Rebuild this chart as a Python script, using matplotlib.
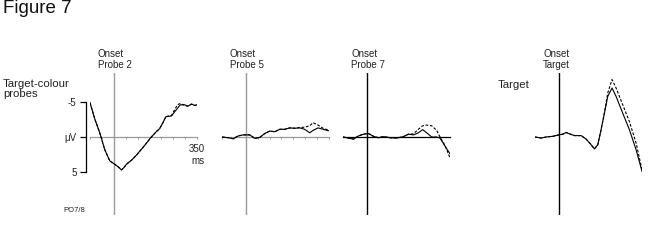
import matplotlib
matplotlib.use("Agg")
import matplotlib.pyplot as plt

plt.rcParams['font.family'] = ['Liberation Sans', 'DejaVu Sans']

# ---------------- data (time in ms, amplitude in microvolts; negative plotted up) ----------
t_p2 = [-100, -80, -59, -38, -17, 4, 20, 32, 42, 53, 75, 95, 125, 158, 180, 193, 206, 219,
        243, 256, 268, 280, 298, 311, 327, 341, 350]
solid_p2 = [-4.9, -2.6, -0.6, 1.8, 3.4, 3.9, 4.3, 4.7, 4.4, 3.9, 3.3, 2.6, 1.4, 0.0, -0.8, -1.2,
            -2.0, -2.9, -3.0, -3.6, -4.1, -4.6, -4.6, -4.4, -4.7, -4.5, -4.6]
dashed_p2 = [-4.9, -2.6, -0.6, 1.8, 3.4, 3.9, 4.3, 4.7, 4.4, 3.9, 3.3, 2.6, 1.4, 0.0, -0.8, -1.2,
             -2.0, -2.9, -3.1, -3.9, -4.6, -4.8, -4.5, -4.4, -4.7, -4.5, -4.6]

t_p5 = [-100, -74, -53, -32, -11, 17, 38, 59, 80, 101, 122, 143, 164, 185, 206, 227, 248,
        269, 283, 304, 325, 346, 350]
solid_p5 = [0.0, 0.1, 0.25, -0.15, -0.3, -0.3, 0.2, 0.05, -0.5, -0.85, -0.75, -1.1, -1.1,
            -1.3, -1.25, -1.3, -1.1, -0.6, -0.95, -1.3, -1.1, -0.9, -0.9]
dashed_p5 = [0.0, 0.1, 0.25, -0.15, -0.3, -0.3, 0.2, 0.05, -0.5, -0.85, -0.75, -1.1, -1.1,
             -1.3, -1.25, -1.35, -1.4, -1.6, -2.05, -1.7, -1.25, -1.0, -1.0]

t_p7 = [-100, -77, -56, -35, -14, 7, 28, 49, 70, 98, 126, 154, 175, 196, 217, 235, 252,
        273, 294, 308, 329, 350]
solid_p7 = [0.0, 0.15, 0.3, -0.15, -0.4, -0.5, -0.1, 0.1, -0.05, 0.1, 0.15, -0.05, -0.4,
            -0.3, -0.6, -1.05, -0.6, 0.0, 0.0, 0.15, 1.3, 2.4]
dashed_p7 = [0.0, 0.15, 0.3, -0.15, -0.4, -0.5, -0.1, 0.1, -0.05, 0.1, 0.15, -0.05, -0.4,
             -0.45, -1.1, -1.6, -1.7, -1.6, -0.95, 0.0, 1.2, 3.0]

t_tg = [-100, -74, -53, -25, 0, 17, 31, 45, 66, 94, 115, 136, 150, 164, 178, 192, 206,
        224, 241, 269, 297, 325, 350]
solid_tg = [0.0, 0.15, 0.0, -0.1, -0.3, -0.4, -0.65, -0.45, -0.2, -0.2, 0.3, 1.1, 1.7,
            1.1, -1.05, -3.4, -5.8, -7.0, -5.8, -3.4, -1.05, 1.8, 4.9]
dashed_tg = [0.0, 0.15, 0.0, -0.1, -0.3, -0.4, -0.65, -0.45, -0.2, -0.2, 0.3, 1.1, 1.7,
             1.1, -1.05, -3.5, -6.3, -8.2, -7.0, -4.6, -2.2, 0.85, 4.7]

panel_titles = ["Onset\nProbe 2", "Onset\nProbe 5", "Onset\nProbe 7", "Onset\nTarget"]
y_ticks = [-5, 0, 5]
y_ticklabels = ["-5", "\u03bcV", "5"]
x_ticks = [-100, -50, 0, 50, 100, 150, 200, 250, 300, 350]

# ---------------- layout ----------------
W, H = 654, 250
fig = plt.figure(figsize=(W / 100, H / 100), dpi=100)


def fx(x):
    return x / W


def fy(y):
    return 1 - y / H


onsets_px = [114, 246, 367, 559]
ax_w = 107      # pixels for -100..350 ms
ax_top, ax_bot = 73, 215
ylim = (11.14, -9.14)

panels = [
    (t_p2, solid_p2, dashed_p2),
    (t_p5, solid_p5, dashed_p5),
    (t_p7, solid_p7, dashed_p7),
    (t_tg, solid_tg, dashed_tg),
]
onset_colors = ["#9a9a9a", "#9a9a9a", "black", "black"]
zero_colors = ["#9a9a9a", "#9a9a9a", "black", None]

for i, (t, s, d) in enumerate(panels):
    left = onsets_px[i] - 24
    ax = fig.add_axes([fx(left), fy(ax_bot), ax_w / W, (ax_bot - ax_top) / H])
    ax.set_xlim(-100, 350)
    ax.set_ylim(*ylim)
    ax.patch.set_visible(False)
    ax.axvline(0, color=onset_colors[i], lw=1.0, zorder=1)
    ax.plot(t, d, color="black", lw=0.8, ls=(0, (2.5, 1.5)), zorder=3)
    ax.plot(t, s, color="black", lw=0.8, zorder=3)

    for sp in ["top", "right"]:
        ax.spines[sp].set_visible(False)
    if zero_colors[i] is not None:
        ax.spines["bottom"].set_position(("data", 0))
        ax.spines["bottom"].set_bounds(-100, 350)
        ax.spines["bottom"].set_color(zero_colors[i])
        ax.spines["bottom"].set_linewidth(0.9)
        ax.set_xticks(x_ticks)
        ax.set_xticklabels([])
        ax.tick_params(axis="x", length=1.5 if i < 2 else 0, width=0.7,
                       color=zero_colors[i], direction="out")
    else:
        ax.spines["bottom"].set_visible(False)
        ax.set_xticks([])

    if i == 0:
        ax.spines["left"].set_position(("outward", 2.9))
        ax.spines["left"].set_bounds(-5, 5)
        ax.spines["left"].set_linewidth(0.9)
        ax.set_yticks(y_ticks)
        ax.set_yticklabels(y_ticklabels, fontsize=7, color="#222222")
        ax.tick_params(axis="y", length=4.3, width=0.9, pad=2.5)
    else:
        ax.spines["left"].set_visible(False)
        ax.set_yticks([])

    fig.text(fx(onsets_px[i] - 16), fy(49), panel_titles[i], fontsize=7, color="#222222",
             ha="left", va="top", linespacing=1.15)

# ---------------- other texts ----------------
fig.text(fx(3), fy(13), "Figure 7", fontsize=13.5, color="#111111", ha="left", va="baseline")
fig.text(fx(3), fy(79), "Target-colour\nprobes", fontsize=8.2, color="#222222",
         ha="left", va="top", linespacing=1.0)
fig.text(fx(498), fy(80), "Target", fontsize=8.2, color="#222222", ha="left", va="top")
fig.text(fx(205), fy(144), "350\nms", fontsize=7, color="#222222", ha="right", va="top",
         multialignment="right", linespacing=1.3)
fig.text(fx(63), fy(210), "PO7/8", fontsize=5.5, color="#222222", ha="left", va="center")

fig.savefig("out.png", dpi=100)
